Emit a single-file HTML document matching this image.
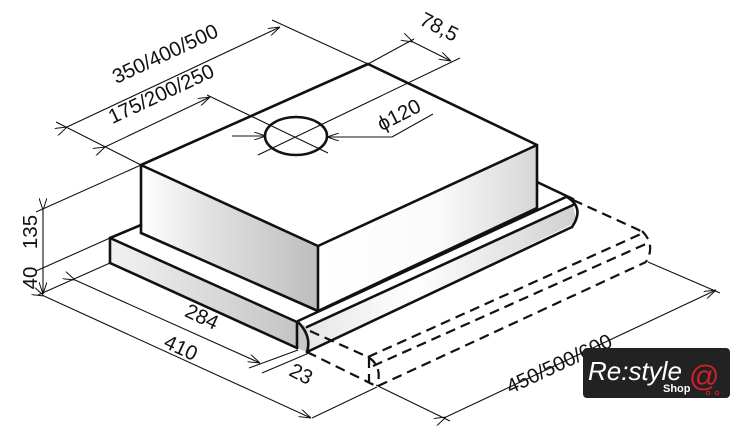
<!DOCTYPE html>
<html><head><meta charset="utf-8"><style>
html,body{margin:0;padding:0;background:#fff;}
svg{display:block;}
text{font-family:"Liberation Sans",sans-serif;fill:#111;}
</style></head><body>
<svg width="740" height="443" viewBox="0 0 740 443" xmlns="http://www.w3.org/2000/svg">
<defs>
<linearGradient id="gL" x1="0" y1="0" x2="1" y2="0">
<stop offset="0" stop-color="#fff"/><stop offset="0.35" stop-color="#e4e4e4"/><stop offset="1" stop-color="#bdbdbd"/></linearGradient>
<linearGradient id="gR" x1="0" y1="0" x2="1" y2="0">
<stop offset="0" stop-color="#fff"/><stop offset="0.55" stop-color="#fafafa"/><stop offset="1" stop-color="#d6d6d6"/></linearGradient>
<linearGradient id="gT" x1="0" y1="0" x2="1" y2="0">
<stop offset="0" stop-color="#f2f2f2"/><stop offset="1" stop-color="#c4c4c4"/></linearGradient>
<linearGradient id="gV" x1="0" y1="0" x2="1" y2="0">
<stop offset="0" stop-color="#e6e6e6"/><stop offset="0.4" stop-color="#fff"/><stop offset="1" stop-color="#d0d0d0"/></linearGradient>
<marker id="a" viewBox="0 0 12 8" refX="12" refY="4" markerWidth="12" markerHeight="8" orient="auto" markerUnits="userSpaceOnUse">
<path d="M0,0 L12,4 L0,8" fill="none" stroke="#111" stroke-width="1"/></marker>
</defs>

<polygon points="110,238 297,322 297,348 110,263" fill="url(#gT)"/>
<polygon points="297,322 307,327 307,352 297,348" fill="#c8c8c8"/>
<polygon points="141,165 318,246 318,311 141,233" fill="url(#gL)"/>
<polygon points="318,246 537,145 537,207 318,311" fill="url(#gR)"/>
<polygon points="307,327 573,205 577,222 307,352" fill="url(#gV)"/>

<g fill="none" stroke="#111" stroke-width="2.6" stroke-linejoin="round" stroke-linecap="round">
<polygon points="141,165 368,64 537,145 318,246"/>
<line x1="141" y1="165" x2="141" y2="233"/>
<line x1="318" y1="246" x2="318" y2="311"/>
<line x1="537" y1="145" x2="537" y2="207"/>
<line x1="141" y1="233" x2="318" y2="311"/>
<line x1="110" y1="238" x2="141" y2="225"/>
<line x1="110" y1="238" x2="297" y2="322"/>
<line x1="110" y1="238" x2="110" y2="263"/>
<line x1="110" y1="263" x2="297" y2="348"/>
<line x1="297" y1="322" x2="297" y2="348"/>
<line x1="318" y1="311" x2="537" y2="208"/>
<line x1="537" y1="182" x2="573" y2="199"/>
<line x1="298" y1="321" x2="566" y2="197"/>
<line x1="307" y1="327" x2="573" y2="205"/>
<line x1="307" y1="352" x2="572" y2="227"/>
<path d="M298,322 Q312,336 307,352"/>
<path d="M567,197 Q585,208 572,227"/>
<ellipse cx="296" cy="136" rx="31" ry="19"/>
</g>

<g fill="none" stroke="#111" stroke-width="2.2" stroke-dasharray="10,6">
<line x1="573" y1="200" x2="641" y2="231"/>
<line x1="310" y1="331" x2="368" y2="357"/>
<line x1="307" y1="352" x2="376" y2="386"/>
<line x1="368" y1="357" x2="643" y2="233"/>
<line x1="373" y1="366" x2="648" y2="243"/>
<line x1="378" y1="386" x2="646" y2="262"/>
<path d="M642,231 Q656,245 646,262"/>
<path d="M368,357 Q383,366 377,386"/>
<line x1="369" y1="358" x2="369" y2="383"/>
</g>

<g fill="none" stroke="#111" stroke-width="1.1">
<line x1="56" y1="122" x2="141" y2="165"/>
<line x1="368" y1="64" x2="272" y2="20"/>
<line x1="67" y1="127" x2="280" y2="27" marker-start="url(#a)" marker-end="url(#a)"/>
<line x1="207" y1="95" x2="328" y2="153"/>
<line x1="105" y1="147" x2="210" y2="97" marker-start="url(#a)" marker-end="url(#a)"/>
<line x1="232" y1="136" x2="266" y2="136" marker-end="url(#a)"/>
<line x1="392" y1="137" x2="327" y2="137" marker-end="url(#a)"/>
<line x1="392" y1="137" x2="433" y2="114"/>
<line x1="258" y1="155" x2="460" y2="58"/>
<line x1="368" y1="64" x2="414" y2="39"/>
<line x1="413" y1="42" x2="451" y2="61" marker-start="url(#a)" marker-end="url(#a)"/>
<line x1="36" y1="212" x2="141" y2="165"/>
<line x1="36" y1="271" x2="110" y2="238"/>
<line x1="38" y1="295" x2="110" y2="263"/>
<line x1="43" y1="210" x2="43" y2="268" marker-start="url(#a)"/>
<line x1="43" y1="268" x2="43" y2="294" marker-end="url(#a)"/>
<line x1="75" y1="280" x2="260" y2="363" marker-start="url(#a)" marker-end="url(#a)"/>
<line x1="44" y1="296" x2="311" y2="418" marker-start="url(#a)" marker-end="url(#a)"/>
<line x1="312" y1="418" x2="377" y2="387"/>
<line x1="249" y1="368" x2="298" y2="350"/>
<line x1="262" y1="373" x2="309" y2="353"/>
<line x1="378" y1="386" x2="450" y2="421"/>
<line x1="648" y1="262" x2="720" y2="293"/>
<line x1="446" y1="417" x2="716" y2="290" marker-start="url(#a)" marker-end="url(#a)"/>
</g>

<g font-size="20.5">
<text transform="translate(168,60) rotate(-25)" text-anchor="middle">350/400/500</text>
<text transform="translate(164,100) rotate(-25)" text-anchor="middle">175/200/250</text>
<text transform="translate(402,121) rotate(-27)" text-anchor="middle">ϕ120</text>
<text transform="translate(436,33) rotate(27)" text-anchor="middle">78,5</text>
<text transform="translate(37,232) rotate(-90)" text-anchor="middle">135</text>
<text transform="translate(37,278) rotate(-90)" text-anchor="middle">40</text>
<text transform="translate(199,323) rotate(25)" text-anchor="middle">284</text>
<text transform="translate(178,354) rotate(25)" text-anchor="middle">410</text>
<text transform="translate(298,380) rotate(27)" text-anchor="middle">23</text>
<text transform="translate(562,370) rotate(-25)" text-anchor="middle">450/500/600</text>
</g>

<rect x="583" y="348" width="147" height="50" rx="4" fill="#222"/>
<text x="588" y="380" font-size="26" font-style="italic" style="fill:#fff">Re:style</text>
<text x="663" y="392" font-size="11" font-weight="bold" style="fill:#fff">Shop</text>
<text x="689" y="386" font-size="30" style="fill:#d0202a">@</text>
<circle cx="708" cy="393" r="1.8" fill="none" stroke="#d0202a"/>
<circle cx="717" cy="393" r="1.8" fill="none" stroke="#d0202a"/>
</svg>
</body></html>
